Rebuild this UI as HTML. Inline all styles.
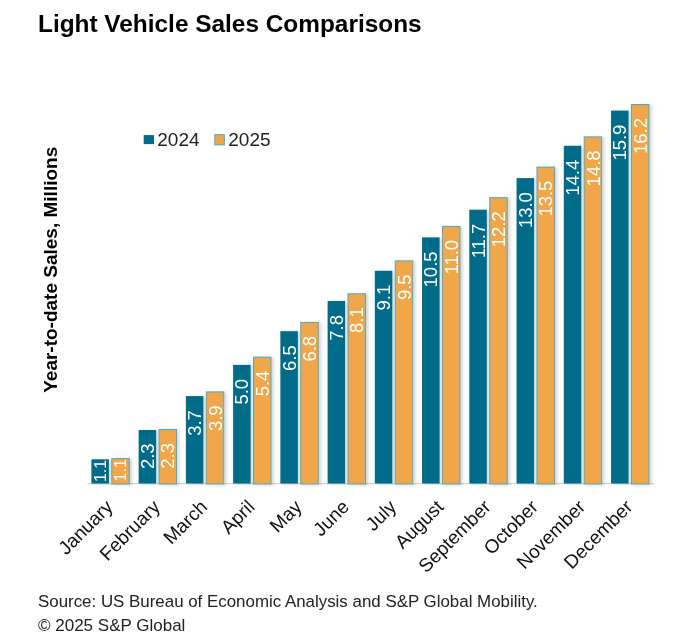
<!DOCTYPE html><html><head><meta charset="utf-8"><style>html,body{margin:0;padding:0;background:#fff;overflow:hidden}svg{display:block;will-change:transform}text{font-family:"Liberation Sans",sans-serif}</style></head><body>
<svg width="685" height="637" viewBox="0 0 685 637">
<defs><filter id="sh" x="-20%" y="-5%" width="160%" height="110%"><feDropShadow dx="2.2" dy="0.8" stdDeviation="1.4" flood-color="#000" flood-opacity="0.16"/></filter></defs>
<rect width="685" height="637" fill="#fff"/>
<text x="38" y="31.8" font-size="24.4" font-weight="bold" fill="#000">Light Vehicle Sales Comparisons</text>
<text transform="translate(56.7,392.8) rotate(-90)" font-size="19" font-weight="bold" fill="#000">Year-to-date Sales, Millions</text>
<rect x="143.7" y="135.1" width="10.3" height="9" fill="#006c89"/>
<text x="157.3" y="145.6" font-size="19" fill="#222">2024</text>
<rect x="214.8" y="134.6" width="9.5" height="10.3" fill="#f0a64a" stroke="#4fa8c4" stroke-width="1"/>
<text x="228.3" y="145.6" font-size="19" fill="#222">2025</text>
<rect x="87.4" y="483.0" width="566.88" height="1.2" fill="#d6d0d2"/>
<rect x="91.40" y="459.30" width="17.50" height="24.20" fill="#006c89" filter="url(#sh)"/>
<text transform="translate(105.88,470.90) rotate(-90)" text-anchor="middle" font-size="16" fill="#fff">1.1</text>
<rect x="111.80" y="458.60" width="17.50" height="25.40" fill="#f0a64a" stroke="#4fa8c4" stroke-width="1" filter="url(#sh)"/>
<text transform="translate(126.28,470.30) rotate(-90)" text-anchor="middle" font-size="16" fill="#fff">1.1</text>
<text transform="translate(114.02,508.00) rotate(-45)" text-anchor="end" font-size="19" fill="#111">January</text>
<rect x="138.64" y="430.00" width="17.50" height="53.50" fill="#006c89" filter="url(#sh)"/>
<text transform="translate(154.01,456.25) rotate(-90)" text-anchor="middle" font-size="18.5" fill="#fff">2.3</text>
<rect x="159.04" y="429.50" width="17.50" height="54.50" fill="#f0a64a" stroke="#4fa8c4" stroke-width="1" filter="url(#sh)"/>
<text transform="translate(174.41,443.00) rotate(-90)" text-anchor="end" font-size="18.5" fill="#fff">2.3</text>
<text transform="translate(161.26,508.00) rotate(-45)" text-anchor="end" font-size="19" fill="#111">February</text>
<rect x="185.88" y="396.10" width="17.50" height="87.40" fill="#006c89" filter="url(#sh)"/>
<text transform="translate(201.25,410.10) rotate(-90)" text-anchor="end" font-size="18.5" fill="#fff">3.7</text>
<rect x="206.28" y="391.90" width="17.50" height="92.10" fill="#f0a64a" stroke="#4fa8c4" stroke-width="1" filter="url(#sh)"/>
<text transform="translate(221.65,405.40) rotate(-90)" text-anchor="end" font-size="18.5" fill="#fff">3.9</text>
<text transform="translate(208.50,508.00) rotate(-45)" text-anchor="end" font-size="19" fill="#111">March</text>
<rect x="233.12" y="364.90" width="17.50" height="118.60" fill="#006c89" filter="url(#sh)"/>
<text transform="translate(248.49,378.90) rotate(-90)" text-anchor="end" font-size="18.5" fill="#fff">5.0</text>
<rect x="253.52" y="357.10" width="17.50" height="126.90" fill="#f0a64a" stroke="#4fa8c4" stroke-width="1" filter="url(#sh)"/>
<text transform="translate(268.89,370.60) rotate(-90)" text-anchor="end" font-size="18.5" fill="#fff">5.4</text>
<text transform="translate(255.74,508.00) rotate(-45)" text-anchor="end" font-size="19" fill="#111">April</text>
<rect x="280.36" y="331.20" width="17.50" height="152.30" fill="#006c89" filter="url(#sh)"/>
<text transform="translate(295.73,345.20) rotate(-90)" text-anchor="end" font-size="18.5" fill="#fff">6.5</text>
<rect x="300.76" y="322.40" width="17.50" height="161.60" fill="#f0a64a" stroke="#4fa8c4" stroke-width="1" filter="url(#sh)"/>
<text transform="translate(316.13,335.90) rotate(-90)" text-anchor="end" font-size="18.5" fill="#fff">6.8</text>
<text transform="translate(302.98,508.00) rotate(-45)" text-anchor="end" font-size="19" fill="#111">May</text>
<rect x="327.60" y="301.00" width="17.50" height="182.50" fill="#006c89" filter="url(#sh)"/>
<text transform="translate(342.97,315.00) rotate(-90)" text-anchor="end" font-size="18.5" fill="#fff">7.8</text>
<rect x="348.00" y="293.80" width="17.50" height="190.20" fill="#f0a64a" stroke="#4fa8c4" stroke-width="1" filter="url(#sh)"/>
<text transform="translate(363.37,307.30) rotate(-90)" text-anchor="end" font-size="18.5" fill="#fff">8.1</text>
<text transform="translate(350.22,508.00) rotate(-45)" text-anchor="end" font-size="19" fill="#111">June</text>
<rect x="374.84" y="270.80" width="17.50" height="212.70" fill="#006c89" filter="url(#sh)"/>
<text transform="translate(390.21,284.80) rotate(-90)" text-anchor="end" font-size="18.5" fill="#fff">9.1</text>
<rect x="395.24" y="260.90" width="17.50" height="223.10" fill="#f0a64a" stroke="#4fa8c4" stroke-width="1" filter="url(#sh)"/>
<text transform="translate(410.61,274.40) rotate(-90)" text-anchor="end" font-size="18.5" fill="#fff">9.5</text>
<text transform="translate(397.46,508.00) rotate(-45)" text-anchor="end" font-size="19" fill="#111">July</text>
<rect x="422.08" y="237.40" width="17.50" height="246.10" fill="#006c89" filter="url(#sh)"/>
<text transform="translate(437.45,251.40) rotate(-90)" text-anchor="end" font-size="18.5" fill="#fff">10.5</text>
<rect x="442.48" y="226.40" width="17.50" height="257.60" fill="#f0a64a" stroke="#4fa8c4" stroke-width="1" filter="url(#sh)"/>
<text transform="translate(457.85,239.90) rotate(-90)" text-anchor="end" font-size="18.5" fill="#fff">11.0</text>
<text transform="translate(444.70,508.00) rotate(-45)" text-anchor="end" font-size="19" fill="#111">August</text>
<rect x="469.32" y="209.70" width="17.50" height="273.80" fill="#006c89" filter="url(#sh)"/>
<text transform="translate(484.69,223.70) rotate(-90)" text-anchor="end" font-size="18.5" fill="#fff">11.7</text>
<rect x="489.72" y="197.70" width="17.50" height="286.30" fill="#f0a64a" stroke="#4fa8c4" stroke-width="1" filter="url(#sh)"/>
<text transform="translate(505.09,211.20) rotate(-90)" text-anchor="end" font-size="18.5" fill="#fff">12.2</text>
<text transform="translate(491.94,508.00) rotate(-45)" text-anchor="end" font-size="19" fill="#111">September</text>
<rect x="516.56" y="178.10" width="17.50" height="305.40" fill="#006c89" filter="url(#sh)"/>
<text transform="translate(531.93,192.10) rotate(-90)" text-anchor="end" font-size="18.5" fill="#fff">13.0</text>
<rect x="536.96" y="167.10" width="17.50" height="316.90" fill="#f0a64a" stroke="#4fa8c4" stroke-width="1" filter="url(#sh)"/>
<text transform="translate(552.33,180.60) rotate(-90)" text-anchor="end" font-size="18.5" fill="#fff">13.5</text>
<text transform="translate(539.18,508.00) rotate(-45)" text-anchor="end" font-size="19" fill="#111">October</text>
<rect x="563.80" y="145.80" width="17.50" height="337.70" fill="#006c89" filter="url(#sh)"/>
<text transform="translate(579.17,159.80) rotate(-90)" text-anchor="end" font-size="18.5" fill="#fff">14.4</text>
<rect x="584.20" y="136.90" width="17.50" height="347.10" fill="#f0a64a" stroke="#4fa8c4" stroke-width="1" filter="url(#sh)"/>
<text transform="translate(599.57,150.40) rotate(-90)" text-anchor="end" font-size="18.5" fill="#fff">14.8</text>
<text transform="translate(586.42,508.00) rotate(-45)" text-anchor="end" font-size="19" fill="#111">November</text>
<rect x="611.04" y="110.60" width="17.50" height="372.90" fill="#006c89" filter="url(#sh)"/>
<text transform="translate(626.41,124.60) rotate(-90)" text-anchor="end" font-size="18.5" fill="#fff">15.9</text>
<rect x="631.44" y="104.50" width="17.50" height="379.50" fill="#f0a64a" stroke="#4fa8c4" stroke-width="1" filter="url(#sh)"/>
<text transform="translate(646.81,118.00) rotate(-90)" text-anchor="end" font-size="18.5" fill="#fff">16.2</text>
<text transform="translate(633.66,508.00) rotate(-45)" text-anchor="end" font-size="19" fill="#111">December</text>
<text x="38" y="606.9" font-size="16.9" fill="#222">Source: US Bureau of Economic Analysis and S&amp;P Global Mobility.</text>
<text x="38" y="631.3" font-size="17" fill="#222">© 2025 S&amp;P Global</text>
</svg></body></html>
